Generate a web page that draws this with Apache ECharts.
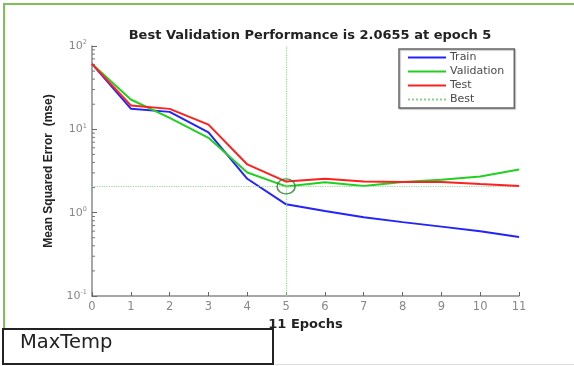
<!DOCTYPE html>
<html>
<head>
<meta charset="utf-8">
<script src="https://cdn.jsdelivr.net/npm/echarts@6/dist/echarts.min.js"></script>
<style>
html,body{margin:0;padding:0;background:#fff;}
#c{width:574px;height:366px;}
</style>
</head>
<body>
<div id="c"></div>
<script>
// ---- data ----
const epochs = [0,1,2,3,4,5,6,7,8,9,10,11];
const trainMse = [61, 17.7, 16.2, 9.2, 2.55, 1.26, 1.05, 0.88, 0.77, 0.68, 0.60, 0.51];
const validationMse = [61, 22.8, 13.7, 7.9, 3.03, 2.0655, 2.32, 2.09, 2.34, 2.48, 2.72, 3.3];
const testMse = [61, 19.3, 17.6, 11.4, 3.79, 2.36, 2.55, 2.36, 2.34, 2.34, 2.21, 2.09];
const bestEpoch = 5;
const bestValue = 2.0655;
const xTicks = [0,1,2,3,4,5,6,7,8,9,10,11];
const yMajorTicks = [0.1, 1, 10, 100];
const yMinorTicks = [0.2,0.3,0.4,0.5,0.6,0.7,0.8,0.9,2,3,4,5,6,7,8,9,20,30,40,50,60,70,80,90];
const seriesNames = ['Train','Validation','Test','Best'];
const titleText = 'Best Validation Performance is 2.0655 at epoch 5';
const xName = '11 Epochs';
const yName = 'Mean Squared Error  (mse)';
const boxLabel = 'MaxTemp';

const pair = (arr) => epochs.map((e,i)=>[e,arr[i]]);
const FONT = 'DejaVu Sans';
const axisGray = '#8a8a8a';

const chart = echarts.init(document.getElementById('c'), null, {renderer:'canvas'});
const option = {
  backgroundColor:'#fff',
  animation:false,
  textStyle:{fontFamily:FONT},
  title:{
    text:titleText, left:305, top:24, textAlign:'center',
    textStyle:{fontSize:13, fontWeight:'bold', color:'#222', fontFamily:FONT}
  },
  legend:{
    data:seriesNames, orient:'vertical', left:399, top:49,
    padding:[3,10,3,8], itemWidth:38, itemHeight:10, itemGap:3,
    borderColor:'#666', borderWidth:1.5, backgroundColor:'#fff',
    shadowColor:'rgba(0,0,0,0.25)', shadowOffsetX:1, shadowOffsetY:1, shadowBlur:1,
    itemStyle:{color:'rgba(0,0,0,0)', borderColor:'rgba(0,0,0,0)', borderWidth:0, opacity:0},
    textStyle:{fontSize:11, color:'#4a4a4a', fontFamily:FONT, padding:[0,0,0,-1]}
  },
  grid:{left:92, right:55, top:46, bottom:70, containLabel:false},
  xAxis:{
    type:'value', min:0, max:11, interval:1,
    name:xName, nameLocation:'middle', nameGap:19,
    nameTextStyle:{fontSize:13, fontWeight:'bold', color:'#222', fontFamily:FONT},
    axisLine:{lineStyle:{color:axisGray, width:1.5}},
    axisTick:{inside:true, length:4, lineStyle:{color:'#666'}},
    axisLabel:{color:'#888', fontSize:11.5, margin:5, fontFamily:FONT,
      formatter:(v)=> xTicks.includes(v) ? String(v) : ''},
    splitLine:{show:false}
  },
  yAxis:{
    type:'log', logBase:10, min:0.1, max:100,
    name:yName, nameLocation:'middle', nameGap:37, nameRotate:90,
    nameTextStyle:{fontSize:12, fontWeight:'bold', color:'#222', fontFamily:'Liberation Sans'},
    axisLine:{lineStyle:{color:axisGray, width:1.5}},
    axisTick:{inside:true, length:5, lineStyle:{color:'#666'}},
    axisLabel:{
      color:'#888', fontSize:11, margin:5, fontFamily:FONT,
      formatter:(v)=>{
        const e = Math.round(Math.log10(v));
        return '10{sup|' + e + '}';
      },
      rich:{sup:{fontSize:6.5, verticalAlign:'top', padding:[0,0,7,0], color:'#888', fontFamily:FONT}}
    },
    splitLine:{show:false}
  },
  series:[
    {name:'Train', type:'line', data:pair(trainMse), showSymbol:false, symbol:'none',
     lineStyle:{color:'#2323ff', width:2}, itemStyle:{color:'#2323ff'}, z:3},
    {name:'Validation', type:'line', data:pair(validationMse), showSymbol:false, symbol:'none',
     lineStyle:{color:'#22d022', width:2}, itemStyle:{color:'#22d022'}, z:4},
    {name:'Test', type:'line', data:pair(testMse), showSymbol:false, symbol:'none',
     lineStyle:{color:'#ff2020', width:2}, itemStyle:{color:'#ff2020'}, z:5},
    {name:'Best', type:'line', data:[], symbol:'none',
     lineStyle:{color:'#8fd08f', width:1, type:'dotted'}, itemStyle:{color:'#8fd08f'},
     markLine:{silent:true, symbol:'none', label:{show:false},
       lineStyle:{color:'#9ad89a', width:1.2, type:'dotted'},
       data:[{xAxis:bestEpoch},{yAxis:bestValue}]}, z:2},
    {name:'bestCircle', type:'scatter', data:[[bestEpoch,bestValue]], symbol:'circle',
     symbolSize:[18,15], itemStyle:{color:'rgba(0,0,0,0)', borderColor:'#2a7a2a', borderWidth:1.5}, z:6,
     silent:true},
    {name:'minorTicks', type:'custom', silent:true, z:1,
     data:yMinorTicks.map(v=>[0,v]),
     renderItem:(params, api)=>{
       const p = api.coord([api.value(0), api.value(1)]);
       return {type:'line', shape:{x1:p[0], y1:p[1], x2:p[0]+3, y2:p[1]},
               style:{stroke:'#777', lineWidth:1}};
     }}
  ],
  graphic:[
    {type:'polyline', silent:true, shape:{points:[[4,328],[4,4],[574,4]]},
     style:{stroke:'#7cc05a', lineWidth:2, fill:null}},
    {type:'line', silent:true, shape:{x1:275, y1:364.5, x2:574, y2:364.5},
     style:{stroke:'#dddddd', lineWidth:1}},
    {type:'rect', silent:true, shape:{x:3, y:329, width:270, height:35},
     style:{stroke:'#222', lineWidth:2, fill:'#fff'}},
    {type:'text', silent:true, left:20, top:333,
     style:{text:boxLabel, fontSize:19.5, fontFamily:'DejaVu Sans', fill:'#222'}}
  ]
};
chart.setOption(option);
</script>
</body>
</html>
